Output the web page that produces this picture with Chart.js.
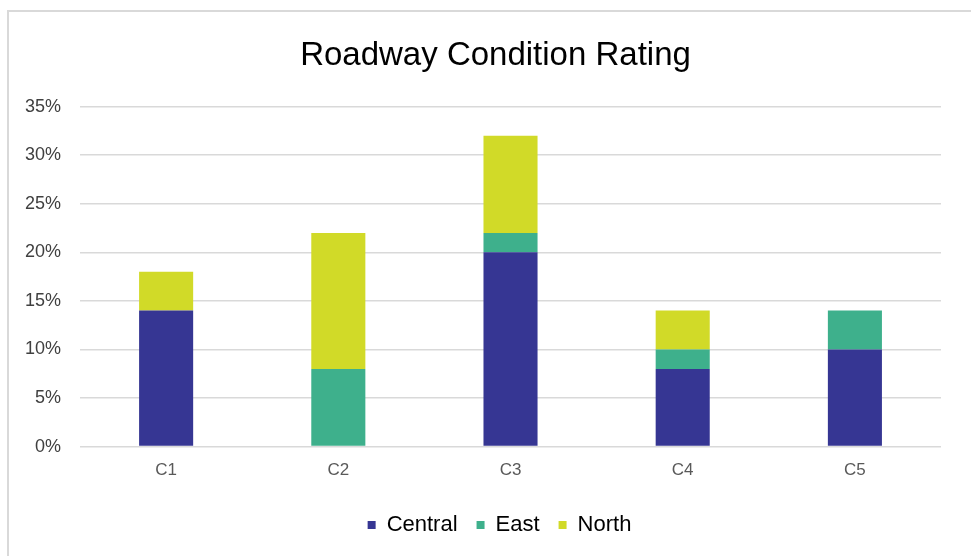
<!DOCTYPE html>
<html>
<head>
<meta charset="utf-8">
<script src="https://cdn.jsdelivr.net/npm/chart.js"></script>
<style>
  html, body { margin: 0; padding: 0; background: #fff; }
  #wrap { position: relative; width: 971px; height: 556px; overflow: hidden; }
  #frame { position: absolute; left: 7px; top: 10px; width: 1000px; height: 600px;
           border: 2px solid #d9d9d9; box-sizing: border-box; pointer-events: none; }
  canvas { position: absolute; left: 0; top: 0; }
</style>
</head>
<body>
<div id="wrap">
  <canvas id="ratingChart" width="971" height="556"></canvas>
  <div id="frame"></div>
</div>
<script>
const categories = ['C1', 'C2', 'C3', 'C4', 'C5'];
const central = [14, 0, 20, 8, 10];
const east = [0, 8, 2, 2, 4];
const north = [4, 14, 10, 4, 0];
const yTicks = [0, 5, 10, 15, 20, 25, 30, 35];

const font = "'Liberation Sans', Arial, sans-serif";

// nudge title and legend boxes to the right so they sit centred in the frame
const shiftBlocks = {
    id: 'shiftBlocks',
    afterLayout(chart) {
        if (chart.titleBlock) {
            chart.titleBlock.left += 22;
            chart.titleBlock.right += 22;
        }
        if (chart.legend) {
            chart.legend.left += 26;
            chart.legend.right += 26;
        }
    }
};

document.addEventListener("DOMContentLoaded", function () {
    const ctx = document.getElementById('ratingChart').getContext('2d');

    new Chart(ctx, {
        type: 'bar',
        data: {
            labels: categories,
            datasets: [
                { label: 'Central', data: central, backgroundColor: '#363693' },
                { label: 'East', data: east, backgroundColor: '#3eb08c' },
                { label: 'North', data: north, backgroundColor: '#d1da28' }
            ]
        },
        options: {
            responsive: false,
            animation: false,
            datasets: {
                bar: { categoryPercentage: 1, barPercentage: 0.314 }
            },
            layout: { padding: { top: 36, left: 6, right: 30, bottom: 10 } },
            plugins: {
                title: {
                    display: true,
                    text: 'Roadway Condition Rating',
                    color: '#000',
                    font: { family: font, size: 33, weight: 'normal' },
                    padding: { top: 0, bottom: 31 }
                },
                legend: {
                    position: 'bottom',
                    labels: {
                        color: '#000',
                        font: { family: font, size: 22 },
                        boxWidth: 8,
                        boxHeight: 8,
                        padding: 19
                    }
                },
                tooltip: { enabled: false }
            },
            scales: {
                x: {
                    stacked: true,
                    grid: { display: false, drawTicks: false },
                    border: { display: false },
                    ticks: { color: '#595959', font: { family: font, size: 17 }, padding: 14 }
                },
                y: {
                    stacked: true,
                    min: 0,
                    max: 35,
                    afterBuildTicks: function (axis) {
                        axis.ticks = yTicks.map(v => ({ value: v }));
                    },
                    grid: { color: '#d9d9d9', lineWidth: 1.5, drawTicks: false },
                    border: { display: false },
                    ticks: {
                        color: '#404040',
                        font: { family: font, size: 18 },
                        padding: 19,
                        callback: v => v + '%'
                    }
                }
            }
        },
        plugins: [shiftBlocks]
    });
});
</script>
</body>
</html>
